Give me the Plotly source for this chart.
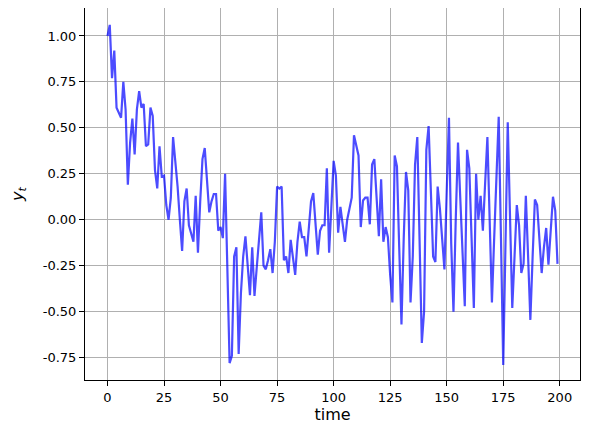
import plotly.graph_objects as go

time = list(range(200))
y_t = [
    1.00, 1.06, 0.77, 0.92, 0.61, 0.58, 0.555, 0.75, 0.60, 0.19,
    0.42, 0.55, 0.355, 0.60, 0.70, 0.61, 0.63, 0.40, 0.41, 0.61,
    0.565, 0.27, 0.17, 0.40, 0.235, 0.24, 0.08, 0.00, 0.12, 0.45,
    0.33, 0.18, 0.00, -0.17, 0.10, 0.17, -0.03, -0.07, -0.12, 0.13,
    -0.18, 0.10, 0.33, 0.39, 0.20, 0.04, 0.10, 0.14, 0.14, -0.06,
    -0.04, -0.10, 0.25, -0.30, -0.78, -0.74, -0.20, -0.15, -0.73, -0.40,
    -0.20, -0.09, -0.25, -0.41, -0.15, -0.415, -0.26, -0.10, 0.04, -0.25,
    -0.27, -0.22, -0.16, -0.29, -0.12, 0.18, 0.17, 0.18, -0.22, -0.20,
    -0.29, -0.11, -0.20, -0.30, -0.12, -0.01, -0.095, -0.095, -0.20, -0.05,
    0.10, 0.145, -0.05, -0.19, -0.06, -0.03, -0.03, 0.28, -0.18, 0.10,
    0.32, 0.24, -0.07, 0.07, -0.02, -0.12, 0.00, 0.07, 0.12, 0.46,
    0.40, 0.35, -0.04, 0.105, 0.12, 0.12, -0.025, 0.30, 0.33, 0.12,
    -0.09, 0.22, -0.12, -0.04, -0.095, -0.30, -0.45, 0.35, 0.29, -0.15,
    -0.57, -0.10, 0.26, 0.16, -0.45, -0.20, 0.30, 0.45, -0.10, -0.67,
    -0.50, 0.38, 0.51, 0.10, -0.20, -0.23, 0.18, 0.06, -0.12, -0.27,
    0.15, 0.555, -0.13, -0.50, 0.00, 0.42, 0.12, -0.18, -0.47, 0.38,
    0.28, -0.10, -0.48, 0.25, 0.00, 0.13, -0.06, 0.20, 0.45, 0.00,
    -0.45, -0.10, 0.22, 0.56, -0.10, -0.79, -0.13, 0.53, 0.02, -0.48,
    -0.20, 0.08, -0.03, -0.29, -0.24, 0.13, -0.20, -0.545, -0.20, 0.11,
    0.08, -0.10, -0.29, -0.15, -0.045, -0.245, -0.05, 0.125, 0.05, -0.24,
]

x_ticks = [0, 25, 50, 75, 100, 125, 150, 175, 200]
y_ticks = [-0.75, -0.50, -0.25, 0.00, 0.25, 0.50, 0.75, 1.00]

fig = go.Figure()
fig.add_trace(go.Scatter(
    x=time, y=y_t, mode="lines",
    line=dict(color="rgba(0,0,255,0.7)", width=2.2),
    showlegend=False,
))

axis_common = dict(
    showgrid=True, gridcolor="#b0b0b0", gridwidth=1,
    showline=True, linecolor="black", linewidth=1, mirror=True,
    ticks="outside", ticklen=5, tickcolor="black", tickwidth=1,
    zeroline=False, automargin=False,
    tickfont=dict(family="DejaVu Sans", size=13, color="black"),
)

# the page body adds an 8px margin, so the figure is sized to fit inside it
fig.update_layout(
    width=573, height=417,
    margin=dict(l=77, r=1, t=0, b=45),
    paper_bgcolor="white", plot_bgcolor="white",
    xaxis=dict(
        range=[-9.95, 208.95], tickvals=x_ticks,
        ticktext=[str(v) for v in x_ticks],
        title=dict(text="time", font=dict(family="DejaVu Sans", size=16, color="black"), standoff=2),
        **axis_common,
    ),
    yaxis=dict(
        range=[-0.872, 1.152], tickvals=y_ticks,
        ticktext=[f"{v:.2f}" for v in y_ticks],
        title=dict(text="<i>y</i><sub><i>t</i></sub>", font=dict(family="DejaVu Sans", size=16, color="black"), standoff=18),
        **axis_common,
    ),
)

fig.write_html("out.html")
